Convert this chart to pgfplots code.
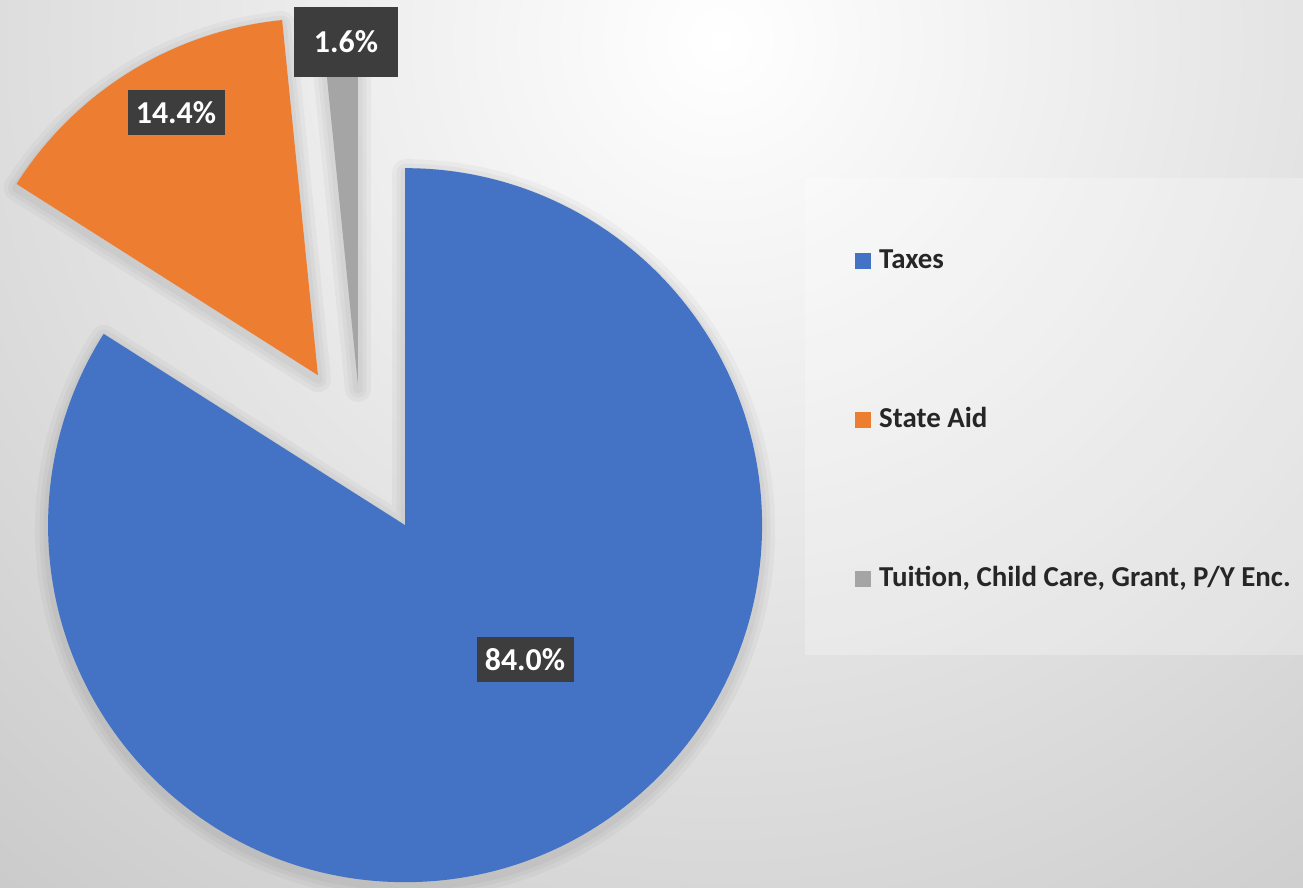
\documentclass[border=0pt]{standalone}
\usepackage{pgfplots}
\pgfplotsset{compat=1.18}
\usepackage{pgfplotstable}
\usepackage{fontspec}
\setmainfont{Carlito}

\definecolor{pieblue}{HTML}{4472C4}
\definecolor{pieorange}{HTML}{ED7D31}
\definecolor{piegray}{HTML}{A5A5A5}
\definecolor{labelbox}{HTML}{3D3D3D}
\definecolor{bggray}{HTML}{C2C2C2}
\pgfdeclareradialshading{bgshade}{\pgfpointorigin}{color(0bp)=(white); color(25bp)=(bggray); color(50bp)=(bggray)}

% value = share in %, explode = offset of the slice, lx/ly/lw/lh = data label box
\pgfplotstableread{
value explode lx  ly  lw  lh
84.0  91.5    525 228 97  45
14.4  82      176 775 97  45
1.6   60      346 846 104 70
}\piedata

\newcommand\getval[3]{\pgfplotstablegetelem{#1}{#2}\of\piedata\let#3\pgfplotsretval}%
\getval{0}{value}\vA\getval{1}{value}\vB\getval{2}{value}\vC%
\getval{0}{explode}\eA\getval{1}{explode}\eB\getval{2}{explode}\eC%
\getval{0}{lx}\lxA\getval{1}{lx}\lxB\getval{2}{lx}\lxC%
\getval{0}{ly}\lyA\getval{1}{ly}\lyB\getval{2}{ly}\lyC%
\getval{0}{lw}\lwA\getval{1}{lw}\lwB\getval{2}{lw}\lwC%
\getval{0}{lh}\lhA\getval{1}{lh}\lhB\getval{2}{lh}\lhC%
% angles, clockwise from 12 o'clock
\pgfmathsetmacro\sA{90}\pgfmathsetmacro\tA{\sA-3.6*\vA}%
\pgfmathsetmacro\sB{\tA}\pgfmathsetmacro\tB{\sB-3.6*\vB}%
\pgfmathsetmacro\sC{\tB}\pgfmathsetmacro\tC{\sC-3.6*\vC}%
% pie centre 361,443, radius 357
\pgfmathsetmacro\xA{361+\eA*cos((\sA+\tA)/2)}\pgfmathsetmacro\yA{443+\eA*sin((\sA+\tA)/2)}%
\pgfmathsetmacro\xB{361+\eB*cos((\sB+\tB)/2)}\pgfmathsetmacro\yB{443+\eB*sin((\sB+\tB)/2)}%
\pgfmathsetmacro\xC{361+\eC*cos((\sC+\tC)/2)}\pgfmathsetmacro\yC{443+\eC*sin((\sC+\tC)/2)}%

\newcommand\pieslice[5]{%
  \fill[#5] (axis cs:#1,#2) -- ++(#3:357bp) arc[start angle=#3,end angle=#4,radius=357bp] -- cycle;}
\newcommand\sliceshadow[4]{%
  \draw[black,opacity=0.03,line width=26bp,line join=round,yshift=-4bp] (axis cs:#1,#2) -- ++(#3:357bp) arc[start angle=#3,end angle=#4,radius=357bp] -- cycle;
  \draw[black,opacity=0.03,line width=17bp,line join=round,yshift=-4bp] (axis cs:#1,#2) -- ++(#3:357bp) arc[start angle=#3,end angle=#4,radius=357bp] -- cycle;
  \draw[black,opacity=0.03,line width=9bp,line join=round,yshift=-4bp] (axis cs:#1,#2) -- ++(#3:357bp) arc[start angle=#3,end angle=#4,radius=357bp] -- cycle;}
\tikzset{datalabel/.style={fill=labelbox,text=white,inner sep=0pt,
  font=\fontsize{32}{36}\selectfont\bfseries}}

\begin{document}
\begin{tikzpicture}
\begin{axis}[
  scale only axis,
  width=1303bp, height=888bp,
  xmin=0, xmax=1303, ymin=0, ymax=888,
  hide axis,
  legend image code/.code={\fill[#1] (0bp,-8bp) rectangle (16bp,8bp);},
  legend style={at={(axis cs:855,641)}, anchor=north west, draw=none, fill=none,
    inner sep=0pt, row sep=131bp, column sep=8bp,
    font=\fontsize{29}{34}\selectfont\bfseries, text=black!85,
    nodes={inner sep=0pt, text height=21bp, text depth=7bp}},
  legend cell align=left,
]
% background
\begin{scope}
  \clip (axis cs:0,0) rectangle (axis cs:1303,888);
  \fill[bggray] (axis cs:0,0) rectangle (axis cs:1303,888);
  \shade[shading=bgshade] (axis cs:720,848) circle[radius=1300bp];
\end{scope}
\fill[white,opacity=0.25] (axis cs:805,233) rectangle (axis cs:1303,710);

\sliceshadow{\xA}{\yA}{\sA}{\tA}
\sliceshadow{\xB}{\yB}{\sB}{\tB}
\sliceshadow{\xC}{\yC}{\sC}{\tC}
\pieslice{\xA}{\yA}{\sA}{\tA}{pieblue}
\pieslice{\xB}{\yB}{\sB}{\tB}{pieorange}
\pieslice{\xC}{\yC}{\sC}{\tC}{piegray}

\node[datalabel,minimum width=\lwA bp,minimum height=\lhA bp] at (axis cs:\lxA,\lyA)
  {\pgfmathprintnumber[fixed,fixed zerofill,precision=1,assume math mode=true]{\vA}\%};
\node[datalabel,minimum width=\lwB bp,minimum height=\lhB bp] at (axis cs:\lxB,\lyB)
  {\pgfmathprintnumber[fixed,fixed zerofill,precision=1,assume math mode=true]{\vB}\%};
\node[datalabel,minimum width=\lwC bp,minimum height=\lhC bp] at (axis cs:\lxC,\lyC)
  {\pgfmathprintnumber[fixed,fixed zerofill,precision=1,assume math mode=true]{\vC}\%};

\addlegendimage{draw=none,fill=pieblue}
\addlegendentry{Taxes}
\addlegendimage{draw=none,fill=pieorange}
\addlegendentry{State Aid}
\addlegendimage{draw=none,fill=piegray}
\addlegendentry{Tuition, Child Care, Grant, P/Y Enc.}

\coordinate (SW) at (axis cs:0,0);
\coordinate (NE) at (axis cs:1303,888);
\end{axis}
\pgfresetboundingbox
\path[use as bounding box] (SW) rectangle (NE);
\end{tikzpicture}
\end{document}
